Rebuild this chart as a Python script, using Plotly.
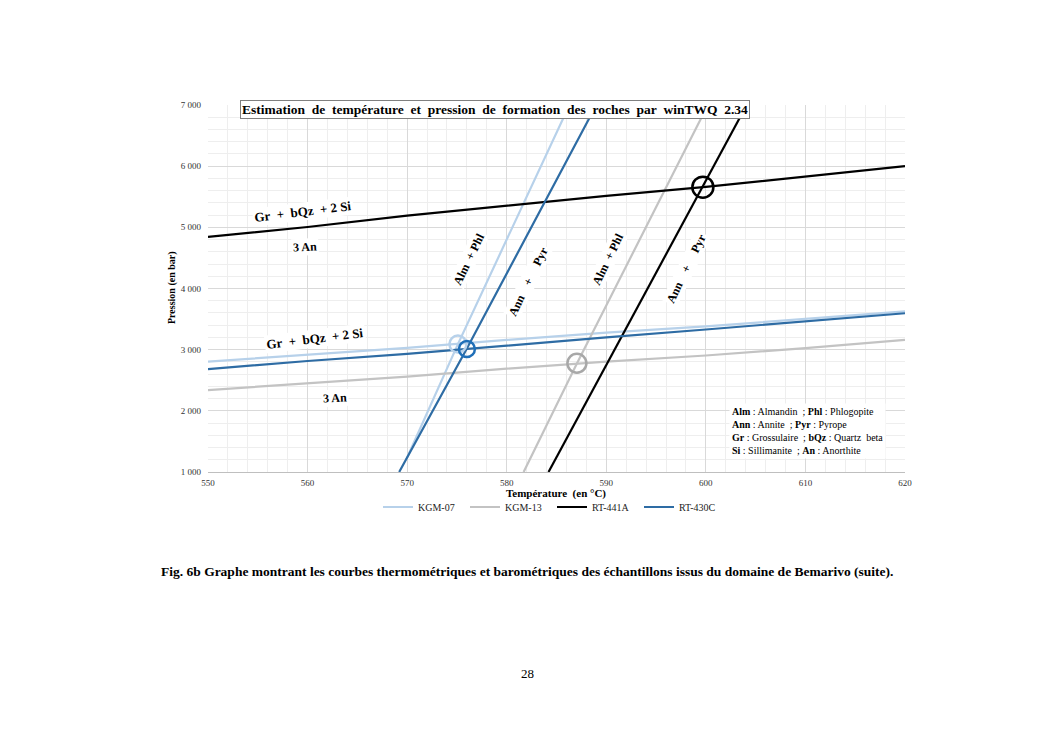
import plotly.graph_objects as go

# ---------------- DATA ----------------
# Barometric lines (Gr + bQz + 2 Si = 3 An): temperature (°C) -> pressure (bar)
BARO_T = [550, 560, 570, 580, 590, 600, 610, 620]
KGM07_BARO_P = [2805, 2915, 3030, 3160, 3280, 3380, 3500, 3625]
KGM13_BARO_P = [2340, 2450, 2560, 2690, 2805, 2905, 3025, 3160]
RT441A_BARO_P = [4845, 5005, 5190, 5355, 5515, 5660, 5830, 6000]
RT430C_BARO_P = [2683, 2815, 2930, 3070, 3200, 3330, 3460, 3595]

# Thermometric lines (Ann + Pyr = Alm + Phl)
KGM07_THERMO_T = [569.9, 575.1, 586.3]
KGM07_THERMO_P = [1200, 3090, 7000]
KGM13_THERMO_T = [581.7, 587.05, 600.2]
KGM13_THERMO_P = [1000, 2775, 7000]
RT441A_THERMO_T = [584.2, 599.7, 604.1]
RT441A_THERMO_P = [1000, 5660, 7000]
RT430C_THERMO_T = [569.2, 576.0, 589.0]
RT430C_THERMO_P = [1000, 3020, 7000]

# Intersections (circles)
SAMPLES = ["KGM-07", "KGM-13", "RT-441A", "RT-430C"]
INTER_T = [575.1, 587.05, 599.7, 576.0]
INTER_P = [3092, 2778, 5657, 3012]

X_TICKS = [550, 560, 570, 580, 590, 600, 610, 620]
Y_TICKS = [1000, 2000, 3000, 4000, 5000, 6000, 7000]
Y_TICK_LABELS = ["1 000", "2 000", "3 000", "4 000", "5 000", "6 000", "7 000"]

TITLE = "Estimation  de  température  et  pression  de  formation  des  roches  par  winTWQ  2.34"
X_TITLE = "Température  (en °C)"
Y_TITLE = "Pression (en bar)"
CAPTION = ("Fig. 6b Graphe montrant les courbes thermométriques et barométriques "
           "des échantillons issus du domaine de Bemarivo (suite).")
PAGE_NO = "28"
KEY_TEXT = ("<b>Alm</b> : Almandin  ; <b>Phl</b> : Phlogopite<br>"
            "<b>Ann</b> : Annite  ; <b>Pyr</b> : Pyrope<br>"
            "<b>Gr</b> : Grossulaire  ; <b>bQz</b> : Quartz  beta<br>"
            "<b>Si</b> : Sillimanite  ; <b>An</b> : Anorthite")

# ---------------- STYLE ----------------
COLORS = {"KGM-07": "#b7d1ea", "KGM-13": "#c3c3c3", "RT-441A": "#000000", "RT-430C": "#2e6ca4"}
CIRCLE_COLORS = {"KGM-07": "#b7d1ea", "KGM-13": "#a8a8a8", "RT-441A": "#000000", "RT-430C": "#1f6fb8"}
CIRCLE_SIZES = {"KGM-07": 17, "KGM-13": 19, "RT-441A": 21, "RT-430C": 16}
SERIF = "Liberation Serif"

# target pixel positions of the plot area in the screenshot
L, R, T, B = 208, 905, 105, 472
OFF = 8  # page body margin
W, H = 1053 - 2 * OFF, 745 - 2 * OFF


def px(x):
    return (x - L) / (R - L)


def py(y):
    return (B - y) / (B - T)


series = {
    "KGM-07": (KGM07_BARO_P, KGM07_THERMO_T, KGM07_THERMO_P),
    "KGM-13": (KGM13_BARO_P, KGM13_THERMO_T, KGM13_THERMO_P),
    "RT-441A": (RT441A_BARO_P, RT441A_THERMO_T, RT441A_THERMO_P),
    "RT-430C": (RT430C_BARO_P, RT430C_THERMO_T, RT430C_THERMO_P),
}

fig = go.Figure()
for name in SAMPLES:
    bp, tt, tp = series[name]
    fig.add_trace(go.Scatter(
        x=BARO_T + [None] + tt,
        y=bp + [None] + tp,
        mode="lines", name=name,
        line=dict(color=COLORS[name], width=2.2),
        connectgaps=False,
    ))

for i, name in enumerate(SAMPLES):
    fig.add_trace(go.Scatter(
        x=[INTER_T[i]], y=[INTER_P[i]], mode="markers", showlegend=False,
        marker=dict(symbol="circle-open", size=CIRCLE_SIZES[name],
                    color=CIRCLE_COLORS[name], line=dict(width=2.5, color=CIRCLE_COLORS[name])),
    ))

ann = []


def label(text, x, y, angle, size=13, bg="white"):
    ann.append(dict(text="<b>" + text + "</b>", x=px(x), y=py(y), xref="paper", yref="paper",
                    showarrow=False, textangle=angle, xanchor="center", yanchor="middle",
                    font=dict(family=SERIF, size=size, color="black"), bgcolor=bg, borderpad=1))


NB = "\u00a0"
gr = f"Gr{NB}{NB}+{NB}{NB}bQz{NB}{NB}+{NB}2{NB}Si"
label(gr, 303, 211, -7)
label("3 An", 305, 247, -3, size=12)
label(gr, 315, 338, -7)
label("3 An", 335, 398, -3, size=12)
alm = f"Alm{NB}{NB}+{NB}Phl"
ann_pyr = f"Ann{NB}{NB}{NB}{NB}+{NB}{NB}{NB}{NB}{NB}Pyr"
label(alm, 469, 259, -64, size=12)
label(ann_pyr, 528, 282, -64, size=12)
label(alm, 608, 259, -64, size=12)
label(ann_pyr, 686, 269, -64, size=12)

# title box
ann.append(dict(text="<b>" + TITLE.replace("  ", NB + NB) + "</b>", x=px(495), y=py(109),
                xref="paper", yref="paper", showarrow=False, xanchor="center", yanchor="middle",
                font=dict(family=SERIF, size=13.5, color="black"), bgcolor="white",
                bordercolor="#808080", borderwidth=1, borderpad=1))
# key box
ann.append(dict(text=KEY_TEXT.replace("  ", NB + NB), x=px(729), y=py(403), xref="paper", yref="paper",
                showarrow=False, xanchor="left", yanchor="top", align="left",
                font=dict(family=SERIF, size=10, color="black"), bgcolor="white", borderpad=2))
# axis titles
ann.append(dict(text="<b>" + X_TITLE.replace("  ", NB + NB) + "</b>", x=px(556), y=py(493),
                xref="paper", yref="paper", showarrow=False, xanchor="center", yanchor="middle",
                font=dict(family=SERIF, size=11, color="black")))
ann.append(dict(text="<b>" + Y_TITLE + "</b>", x=px(172), y=py(288), xref="paper", yref="paper",
                showarrow=False, textangle=-90, xanchor="center", yanchor="middle",
                font=dict(family=SERIF, size=10, color="black")))
# caption and page number
ann.append(dict(text="<b>" + CAPTION + "</b>", x=px(527), y=py(571), xref="paper", yref="paper",
                showarrow=False, xanchor="center", yanchor="middle",
                font=dict(family=SERIF, size=13.5, color="black")))
ann.append(dict(text=PAGE_NO, x=px(527), y=py(673), xref="paper", yref="paper",
                showarrow=False, xanchor="center", yanchor="middle",
                font=dict(family=SERIF, size=13, color="black")))

fig.update_layout(
    width=W, height=H,
    margin=dict(l=L - OFF, r=W - (R - OFF), t=T - OFF, b=H - (B - OFF)),
    paper_bgcolor="white", plot_bgcolor="white",
    annotations=ann,
    showlegend=True,
    legend=dict(orientation="h", x=px(378), y=py(507), xanchor="left", yanchor="middle",
                font=dict(family=SERIF, size=10, color="#222222"),
                entrywidth=42, itemwidth=30, bgcolor="rgba(0,0,0,0)", tracegroupgap=0),
    xaxis=dict(range=[550, 620], tickvals=X_TICKS, ticktext=[str(v) for v in X_TICKS],
               showgrid=True, gridcolor="#d9d9d9", gridwidth=1,
               minor=dict(dtick=2, showgrid=True, gridcolor="#eeeeee", gridwidth=1),
               showline=True, linecolor="#bfbfbf", linewidth=1, zeroline=False,
               ticks="", ticklabelstandoff=2,
               tickfont=dict(family=SERIF, size=9, color="#333333")),
    yaxis=dict(range=[1000, 7000], tickvals=Y_TICKS, ticktext=Y_TICK_LABELS,
               showgrid=True, gridcolor="#d9d9d9", gridwidth=1,
               minor=dict(dtick=200, showgrid=True, gridcolor="#eeeeee", gridwidth=1),
               showline=False, zeroline=False,
               ticks="", ticklabelstandoff=6,
               tickfont=dict(family=SERIF, size=9, color="#333333")),
)

fig.write_html("out.html")
